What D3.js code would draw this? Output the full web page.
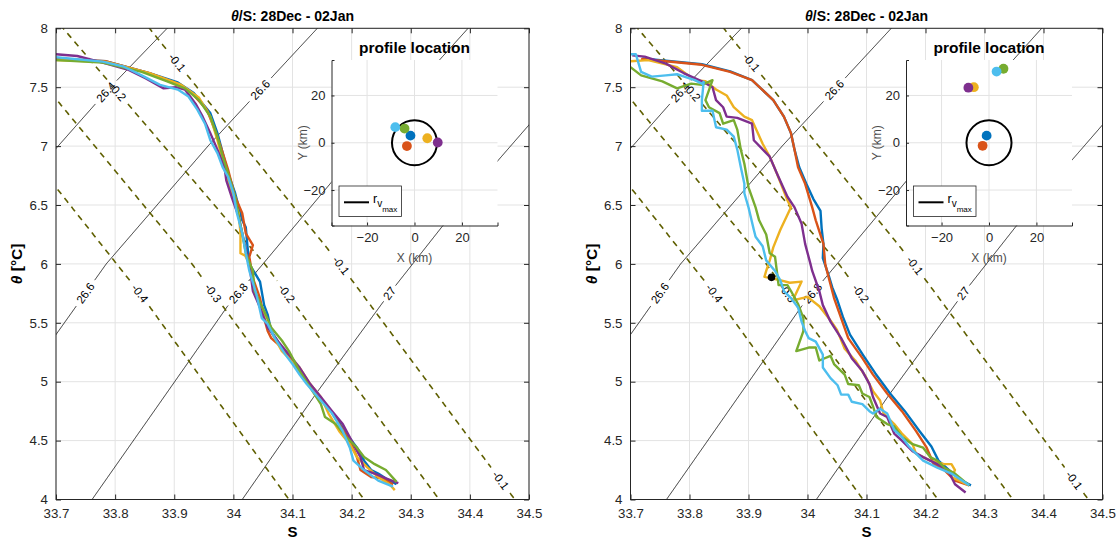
<!DOCTYPE html>
<html>
<head>
<meta charset="utf-8">
<script src="https://cdn.jsdelivr.net/npm/d3@7"></script>
<style>
body { margin: 0; background: #fff; }
text { font-family: "Liberation Sans", Arial, sans-serif; }
</style>
</head>
<body>
<svg id="fig" width="1119" height="542"></svg>
<script>
// ---- axis ticks ----
var sTicks = [33.7, 33.8, 33.9, 34.0, 34.1, 34.2, 34.3, 34.4, 34.5];
var thetaTicks = [4, 4.5, 5, 5.5, 6, 6.5, 7, 7.5, 8];
var insetTicks = [-20, 0, 20];
var titleText = "/S: 28Dec - 02Jan";

// MATLAB default line colours, in plotting order
var profileColors = ["#0072BD", "#D95319", "#EDB120", "#7E2F8E", "#77AC30", "#4DBEEE"];

// ---- isopycnals (S, theta) ----
var iso264 = [[33.64, 6.66], [33.7, 6.98], [33.79, 7.49], [33.888, 8.0], [33.91, 8.1]];
var iso266 = [[33.64, 4.98], [33.7, 5.40], [33.785, 6.0], [33.957, 7.0], [34.142, 8.0], [34.16, 8.1]];
var iso268 = [[33.745, 3.88], [33.761, 4.0], [33.87, 4.78], [33.99, 5.64], [34.217, 7.0], [34.397, 8.0], [34.42, 8.12]];
var iso270 = [[34.0, 3.9], [34.015, 4.0], [34.14, 4.9], [34.264, 5.75], [34.352, 6.31], [34.448, 6.88], [34.5, 7.18], [34.6, 7.77]];
var isoLevels = ["26.4", "26.6", "26.8", "27"];
var isoLabelAt = [
  [[33.787, 7.45]],
  [[34.045, 7.476], [33.75, 5.75]],
  [[34.008, 5.75]],
  [[34.264, 5.75]]
];

// ---- spiciness contours (S, theta) ----
var spice01 = [[33.85, 8.1], [33.858, 8.0], [34.18, 6.0], [34.476, 4.0], [34.49, 3.9]];
var spice02 = [[33.695, 8.1], [33.712, 8.0], [34.053, 6.0], [34.348, 4.0], [34.36, 3.9]];
var spice03 = [[33.68, 7.52], [33.7, 7.40], [33.93, 6.0], [34.221, 4.0], [34.235, 3.9]];
var spice04 = [[33.68, 6.78], [33.7, 6.65], [33.842, 5.75], [34.094, 4.0], [34.11, 3.9]];
var spiceLevels = ["-0.1", "-0.2", "-0.3", "-0.4"];
var spiceLabelAt = [
  [[33.9, 7.69], [34.185, 6.0], [34.452, 4.16]],
  [[33.804, 7.46], [34.09, 5.75]],
  [[33.966, 5.75]],
  [[33.842, 5.75]]
];

// ---- left panel profiles ----
var leftBlue = [[33.7,7.74],[33.785,7.72],[33.858,7.62],[33.906,7.54],[33.933,7.45],[33.961,7.28],[33.973,7.11],[33.982,6.94],[33.991,6.77],[34.003,6.60],[34.015,6.37],[34.021,6.31],[34.024,6.14],[34.027,6.0],[34.045,5.85],[34.052,5.65],[34.058,5.57],[34.064,5.43],[34.082,5.29],[34.1,5.18],[34.118,5.06],[34.136,4.92],[34.155,4.81],[34.173,4.70],[34.191,4.56],[34.209,4.44],[34.221,4.33],[34.233,4.25],[34.245,4.22],[34.264,4.16],[34.276,4.13]];
var leftRed = [[33.7,7.74],[33.785,7.72],[33.858,7.62],[33.906,7.53],[33.93,7.45],[33.955,7.31],[33.967,7.16],[33.979,6.99],[33.991,6.80],[34.003,6.57],[34.015,6.43],[34.021,6.26],[34.033,6.16],[34.027,6.06],[34.03,5.97],[34.033,5.88],[34.045,5.71],[34.052,5.54],[34.058,5.43],[34.064,5.37],[34.082,5.29],[34.1,5.18],[34.118,5.04],[34.136,4.92],[34.161,4.78],[34.179,4.64],[34.197,4.50],[34.209,4.36],[34.215,4.25],[34.233,4.19],[34.252,4.18],[34.27,4.13]];
var leftYellow = [[33.7,7.73],[33.785,7.715],[33.858,7.62],[33.912,7.52],[33.942,7.41],[33.961,7.25],[33.973,7.05],[33.985,6.82],[33.997,6.60],[34.009,6.43],[34.012,6.26],[34.012,6.09],[34.02,6.07],[34.027,6.0],[34.033,5.82],[34.045,5.65],[34.055,5.51],[34.07,5.37],[34.082,5.26],[34.094,5.20],[34.112,5.12],[34.13,4.98],[34.148,4.87],[34.161,4.73],[34.179,4.58],[34.197,4.47],[34.209,4.36],[34.227,4.27],[34.245,4.19],[34.264,4.13],[34.273,4.08]];
var leftPurple = [[33.7,7.78],[33.736,7.765],[33.785,7.70],[33.821,7.65],[33.852,7.575],[33.882,7.49],[33.903,7.50],[33.918,7.48],[33.936,7.36],[33.948,7.25],[33.961,7.11],[33.973,6.97],[33.985,6.82],[33.988,6.71],[33.997,6.57],[34.009,6.40],[34.015,6.26],[34.021,6.12],[34.027,6.0],[34.033,5.77],[34.045,5.63],[34.058,5.46],[34.076,5.34],[34.094,5.23],[34.112,5.12],[34.13,4.98],[34.148,4.87],[34.167,4.75],[34.185,4.64],[34.203,4.47],[34.215,4.36],[34.221,4.25],[34.239,4.22],[34.258,4.18],[34.279,4.14]];
var leftGreen = [[33.7,7.73],[33.779,7.71],[33.845,7.63],[33.888,7.55],[33.918,7.49],[33.942,7.39],[33.961,7.25],[33.973,7.08],[33.982,6.91],[33.991,6.77],[34.003,6.57],[34.009,6.40],[34.015,6.26],[34.021,6.09],[34.033,5.94],[34.036,5.77],[34.052,5.60],[34.064,5.46],[34.082,5.35],[34.094,5.26],[34.112,5.09],[34.13,4.95],[34.148,4.81],[34.155,4.70],[34.173,4.64],[34.191,4.53],[34.209,4.44],[34.221,4.36],[34.239,4.30],[34.258,4.25],[34.276,4.15]];
var leftSky = [[33.7,7.754],[33.779,7.717],[33.815,7.674],[33.845,7.60],[33.876,7.52],[33.906,7.48],[33.924,7.42],[33.939,7.31],[33.952,7.19],[33.961,7.05],[33.973,6.94],[33.982,6.82],[33.991,6.74],[34.0,6.60],[34.006,6.43],[34.015,6.26],[34.021,6.09],[34.027,5.94],[34.039,5.74],[34.048,5.54],[34.058,5.49],[34.07,5.37],[34.088,5.23],[34.1,5.15],[34.112,5.06],[34.124,4.98],[34.148,4.84],[34.167,4.73],[34.185,4.58],[34.197,4.44],[34.203,4.33],[34.221,4.25],[34.245,4.16],[34.27,4.11]];

// ---- right panel profiles ----
var rightBlue = [[33.72,7.745],[33.76,7.725],[33.821,7.695],[33.869,7.635],[33.906,7.56],[33.942,7.39],[33.96,7.25],[33.972,7.11],[33.978,6.97],[33.986,6.82],[33.998,6.68],[34.01,6.55],[34.022,6.45],[34.024,6.3],[34.027,6.17],[34.026,6.05],[34.036,5.9],[34.042,5.8],[34.05,5.7],[34.06,5.55],[34.072,5.4],[34.095,5.22],[34.115,5.07],[34.14,4.9],[34.165,4.75],[34.19,4.58],[34.21,4.45],[34.222,4.33],[34.24,4.25],[34.258,4.17],[34.277,4.12]];
var rightRed = [[33.718,7.74],[33.76,7.72],[33.821,7.69],[33.869,7.63],[33.906,7.56],[33.942,7.39],[33.96,7.25],[33.972,7.11],[33.978,6.97],[33.984,6.82],[33.996,6.68],[34.008,6.48],[34.014,6.37],[34.027,6.17],[34.03,6.0],[34.033,5.94],[34.045,5.71],[34.057,5.54],[34.069,5.37],[34.093,5.2],[34.111,5.06],[34.135,4.9],[34.16,4.75],[34.184,4.58],[34.202,4.44],[34.214,4.30],[34.232,4.25],[34.25,4.16],[34.274,4.12]];
var rightYellow = [[33.7,7.72],[33.73,7.73],[33.779,7.67],[33.809,7.56],[33.827,7.55],[33.845,7.48],[33.863,7.43],[33.875,7.33],[33.893,7.25],[33.906,7.22],[33.924,7.02],[33.936,6.91],[33.948,6.77],[33.966,6.54],[33.972,6.48],[33.954,6.29],[33.942,6.14],[33.936,6.03],[33.93,5.94],[33.927,5.89],[33.955,5.86],[33.97,5.84],[33.99,5.85],[33.975,5.69],[34.0,5.72],[34.02,5.64],[34.039,5.52],[34.05,5.44],[34.063,5.28],[34.081,5.18],[34.099,5.04],[34.111,4.92],[34.123,4.84],[34.129,4.73],[34.147,4.64],[34.16,4.56],[34.178,4.47],[34.184,4.39],[34.208,4.33],[34.232,4.30],[34.244,4.30],[34.25,4.25],[34.244,4.19],[34.262,4.15],[34.274,4.12]];
var rightPurple = [[33.703,7.77],[33.724,7.76],[33.76,7.70],[33.79,7.62],[33.821,7.55],[33.839,7.50],[33.845,7.39],[33.857,7.33],[33.863,7.25],[33.881,7.24],[33.906,7.19],[33.909,7.05],[33.936,6.91],[33.948,6.77],[33.966,6.57],[33.978,6.48],[33.99,6.34],[33.996,6.17],[34.005,6.0],[34.008,5.94],[34.02,5.77],[34.026,5.65],[34.039,5.51],[34.057,5.37],[34.075,5.20],[34.093,5.09],[34.105,4.98],[34.111,4.87],[34.123,4.73],[34.135,4.70],[34.147,4.56],[34.16,4.50],[34.178,4.41],[34.196,4.36],[34.22,4.30],[34.238,4.25],[34.25,4.13],[34.268,4.06]];
var rightGreen = [[33.7,7.67],[33.718,7.60],[33.754,7.55],[33.779,7.49],[33.803,7.53],[33.821,7.52],[33.839,7.56],[33.827,7.39],[33.833,7.33],[33.851,7.28],[33.857,7.19],[33.875,7.22],[33.881,7.14],[33.887,6.97],[33.893,6.85],[33.9,6.65],[33.912,6.48],[33.918,6.37],[33.93,6.25],[33.936,6.09],[33.945,6.06],[33.948,5.94],[33.951,5.82],[33.966,5.82],[33.972,5.77],[33.984,5.66],[33.993,5.54],[33.993,5.43],[33.981,5.26],[34.002,5.29],[34.014,5.29],[34.02,5.18],[34.039,5.22],[34.045,5.15],[34.063,5.06],[34.069,4.98],[34.087,4.97],[34.093,4.90],[34.105,4.87],[34.111,4.79],[34.117,4.70],[34.135,4.64],[34.147,4.62],[34.16,4.53],[34.178,4.47],[34.196,4.44],[34.208,4.36],[34.22,4.33],[34.232,4.27],[34.25,4.22],[34.274,4.12]];
var rightSky = [[33.7,7.78],[33.709,7.78],[33.718,7.63],[33.736,7.59],[33.76,7.60],[33.779,7.61],[33.791,7.59],[33.809,7.56],[33.821,7.53],[33.824,7.545],[33.821,7.39],[33.821,7.30],[33.839,7.30],[33.845,7.16],[33.863,7.14],[33.875,7.08],[33.881,6.97],[33.887,6.82],[33.893,6.68],[33.893,6.60],[33.9,6.48],[33.909,6.29],[33.912,6.23],[33.924,6.15],[33.93,6.03],[33.945,5.94],[33.954,5.86],[33.96,5.77],[33.972,5.71],[33.984,5.63],[33.99,5.51],[33.996,5.43],[34.002,5.37],[34.014,5.34],[34.026,5.23],[34.026,5.12],[34.039,5.03],[34.051,4.97],[34.057,4.89],[34.069,4.89],[34.075,4.83],[34.093,4.81],[34.105,4.75],[34.111,4.73],[34.123,4.77],[34.135,4.73],[34.147,4.59],[34.16,4.53],[34.172,4.45],[34.184,4.39],[34.196,4.33],[34.208,4.30],[34.22,4.27],[34.244,4.22],[34.274,4.12]];
var rightMarker = [[33.939, 5.886]];

// ---- profile locations (km), same colour order ----
var leftLocX = [-1.7, -3.2, 5.4, 9.8, -4.2, -8.1];
var leftLocY = [3.0, -1.4, 1.9, 0.1, 6.0, 6.6];
var rightLocX = [-1.0, -2.7, -6.4, -8.7, 6.1, 3.2];
var rightLocY = [3.0, -1.3, 23.5, 23.3, 31.3, 30.1];
var rvmax = 9.5;


var svg = d3.select("#fig");
var axisColor = "#262626";
var gridColor = "#e3e3e3";
var panelTop = 28.3, panelBottom = 499.5;

function densify(pts, x, y) {
	// walk the polyline in pixel space at ~1px steps
	var out = [];
	for (var i = 0; i < pts.length - 1; i++) {
		var x0 = x(pts[i][0]), y0 = y(pts[i][1]), x1 = x(pts[i+1][0]), y1 = y(pts[i+1][1]);
		var n = Math.max(1, Math.ceil(Math.hypot(x1 - x0, y1 - y0)));
		for (var k = 0; k < n; k++) out.push([x0 + (x1 - x0) * k / n, y0 + (y1 - y0) * k / n]);
	}
	var last = pts[pts.length - 1];
	out.push([x(last[0]), y(last[1])]);
	return out;
}

function drawContour(g, pts, labels, text, x, y, style) {
	var dense = densify(pts, x, y);
	var hide = new Array(dense.length).fill(false);
	var placed = [];
	labels.forEach(function(p) {
		var px = x(p[0]), py = y(p[1]);
		var best = 0, bd = 1e9;
		dense.forEach(function(q, i) {
			var d = Math.hypot(q[0] - px, q[1] - py);
			if (d < bd) { bd = d; best = i; }
		});
		var a = dense[Math.max(0, best - 4)], b = dense[Math.min(dense.length - 1, best + 4)];
		var dx = b[0] - a[0], dy = b[1] - a[1];
		if (dx < 0) { dx = -dx; dy = -dy; }
		var ang = Math.atan2(dy, dx) * 180 / Math.PI;
		var c = dense[best];
		var r = text.length * 3.2 + 3;
		dense.forEach(function(q, i) {
			if (Math.hypot(q[0] - c[0], q[1] - c[1]) < r) hide[i] = true;
		});
		placed.push({x: c[0], y: c[1], a: ang});
	});
	var segs = [], cur = [];
	dense.forEach(function(q, i) {
		if (hide[i]) { if (cur.length > 1) segs.push(cur); cur = []; }
		else cur.push(q);
	});
	if (cur.length > 1) segs.push(cur);

	g.selectAll(null).data(segs).enter().append("path")
		.attr("d", d3.line())
		.attr("fill", "none")
		.attr("stroke", style.color)
		.attr("stroke-width", style.width)
		.attr("stroke-dasharray", style.dash);

	g.selectAll(null).data(placed).enter().append("text")
		.attr("transform", function(d) { return "translate(" + d.x + "," + d.y + ") rotate(" + d.a + ")"; })
		.attr("text-anchor", "middle")
		.attr("dy", "0.35em")
		.attr("font-size", 11.5)
		.attr("fill", "#000")
		.text(text);
}

function drawPanel(x0, x1, profiles, marker, locX, locY, clipId) {
	var x = d3.scaleLinear().domain([33.7, 34.5]).range([x0, x1]);
	var y = d3.scaleLinear().domain([4, 8]).range([panelBottom, panelTop]);
	var g = svg.append("g");

	// grid
	g.append("g").selectAll("line").data(sTicks).enter().append("line")
		.attr("x1", d => x(d)).attr("x2", d => x(d))
		.attr("y1", panelTop).attr("y2", panelBottom)
		.attr("stroke", gridColor).attr("stroke-width", 1);
	g.append("g").selectAll("line").data(thetaTicks).enter().append("line")
		.attr("y1", d => y(d)).attr("y2", d => y(d))
		.attr("x1", x0).attr("x2", x1)
		.attr("stroke", gridColor).attr("stroke-width", 1);

	svg.append("clipPath").attr("id", clipId).append("rect")
		.attr("x", x0).attr("y", panelTop).attr("width", x1 - x0).attr("height", panelBottom - panelTop);
	var plot = g.append("g").attr("clip-path", "url(#" + clipId + ")");

	// background contours
	var isos = [iso264, iso266, iso268, iso270];
	isos.forEach(function(pts, i) {
		drawContour(plot, pts, isoLabelAt[i], isoLevels[i], x, y, {color: "#000", width: 0.8, dash: null});
	});
	var spices = [spice01, spice02, spice03, spice04];
	spices.forEach(function(pts, i) {
		drawContour(plot, pts, spiceLabelAt[i], spiceLevels[i], x, y, {color: "#5f5f00", width: 1.6, dash: "6,5"});
	});

	// profiles
	var line = d3.line().x(d => x(d[0])).y(d => y(d[1]));
	plot.selectAll(".prof").data(profiles).enter().append("path")
		.attr("class", "prof")
		.attr("d", line)
		.attr("fill", "none")
		.attr("stroke", (d, i) => profileColors[i])
		.attr("stroke-width", 2.4)
		.attr("stroke-linejoin", "round");

	plot.selectAll(".mark").data(marker).enter().append("circle")
		.attr("cx", d => x(d[0])).attr("cy", d => y(d[1])).attr("r", 3.8).attr("fill", "#000");

	// axes box
	g.append("rect").attr("x", x0).attr("y", panelTop).attr("width", x1 - x0).attr("height", panelBottom - panelTop)
		.attr("fill", "none").attr("stroke", axisColor).attr("stroke-width", 1);
	var axB = g.append("g").attr("transform", "translate(0," + panelBottom + ")")
		.call(d3.axisBottom(x).tickValues(sTicks).tickSize(-5).tickPadding(9).tickFormat(d3.format("~g")));
	var axT = g.append("g").attr("transform", "translate(0," + panelTop + ")")
		.call(d3.axisTop(x).tickValues(sTicks).tickSize(-5).tickFormat(""));
	var axL = g.append("g").attr("transform", "translate(" + x0 + ",0)")
		.call(d3.axisLeft(y).tickValues(thetaTicks).tickSize(-5).tickPadding(8).tickFormat(d3.format("~g")));
	var axR = g.append("g").attr("transform", "translate(" + x1 + ",0)")
		.call(d3.axisRight(y).tickValues(thetaTicks).tickSize(-5).tickFormat(""));
	[axB, axT, axL, axR].forEach(function(a) {
		a.select(".domain").remove();
		a.selectAll("line").attr("stroke", axisColor);
		a.selectAll("text").attr("fill", axisColor).attr("font-size", 13.3).attr("font-family", "Liberation Sans, Arial, sans-serif");
	});

	// titles
	var cx = (x0 + x1) / 2;
	var t = g.append("text").attr("x", cx).attr("y", 21).attr("text-anchor", "middle")
		.attr("font-size", 14).attr("font-weight", "bold").attr("fill", "#000");
	t.append("tspan").attr("font-style", "italic").text("θ");
	t.append("tspan").text(titleText);
	g.append("text").attr("x", cx).attr("y", 537).attr("text-anchor", "middle")
		.attr("font-size", 15).attr("font-weight", "bold").attr("fill", "#000").text("S");
	var yl = g.append("text").attr("transform", "translate(" + (x0 - 34) + "," + ((panelTop + panelBottom) / 2) + ") rotate(-90)")
		.attr("text-anchor", "middle").attr("font-size", 15.5).attr("font-weight", "bold").attr("fill", "#000");
	yl.append("tspan").attr("font-style", "italic").text("θ");
	yl.append("tspan").text(" [°C]");

	// ---- inset: profile location ----
	var ix0 = x0 + 275.5, ix1 = ix0 + 166, iy0 = 60, iy1 = 225.5;
	var ix = d3.scaleLinear().domain([-35, 35]).range([ix0, ix1]);
	var iy = d3.scaleLinear().domain([-35, 35]).range([iy1, iy0]);
	var ig = g.append("g");
	ig.append("rect").attr("x", ix0).attr("y", iy0).attr("width", ix1 - ix0).attr("height", iy1 - iy0).attr("fill", "#fff");
	ig.selectAll(".gx").data(insetTicks).enter().append("line")
		.attr("x1", d => ix(d)).attr("x2", d => ix(d)).attr("y1", iy0).attr("y2", iy1)
		.attr("stroke", gridColor);
	ig.selectAll(".gy").data(insetTicks).enter().append("line")
		.attr("y1", d => iy(d)).attr("y2", d => iy(d)).attr("x1", ix0).attr("x2", ix1)
		.attr("stroke", gridColor);
	var iaxB = ig.append("g").attr("transform", "translate(0," + iy1 + ")")
		.call(d3.axisBottom(ix).tickValues(insetTicks).tickSize(-3).tickPadding(7));
	var iaxL = ig.append("g").attr("transform", "translate(" + ix0 + ",0)")
		.call(d3.axisLeft(iy).tickValues(insetTicks).tickSize(-3).tickPadding(6));
	[iaxB, iaxL].forEach(function(a) {
		a.select(".domain").attr("stroke", axisColor);
		a.selectAll("line").attr("stroke", axisColor);
		a.selectAll("text").attr("fill", axisColor).attr("font-size", 13).attr("font-family", "Liberation Sans, Arial, sans-serif");
	});
	ig.append("text").attr("x", (ix0 + ix1) / 2).attr("y", iy1 + 36).attr("text-anchor", "middle")
		.attr("font-size", 12).attr("fill", "#4d4d4d").text("X (km)");
	ig.append("text").attr("transform", "translate(" + (ix0 - 25) + "," + ((iy0 + iy1) / 2) + ") rotate(-90)")
		.attr("text-anchor", "middle").attr("font-size", 12).attr("fill", "#4d4d4d").text("Y (km)");
	ig.append("text").attr("x", (ix0 + ix1) / 2).attr("y", 53).attr("text-anchor", "middle")
		.attr("font-size", 15.5).attr("font-weight", "bold").attr("fill", "#000").text("profile location");

	ig.append("ellipse").attr("cx", ix(0)).attr("cy", iy(0))
		.attr("rx", ix(rvmax) - ix(0)).attr("ry", iy(0) - iy(rvmax))
		.attr("fill", "none").attr("stroke", "#000").attr("stroke-width", 2);
	ig.selectAll(".loc").data(locX).enter().append("circle")
		.attr("cx", d => ix(d)).attr("cy", (d, i) => iy(locY[i])).attr("r", 4.9)
		.attr("fill", (d, i) => profileColors[i]);

	// legend
	var lg = ig.append("g").attr("transform", "translate(" + (ix0 + 7.5) + "," + (iy0 + 126) + ")");
	lg.append("rect").attr("width", 62.5).attr("height", 30.5).attr("fill", "#fff").attr("stroke", "#262626").attr("stroke-width", 0.8);
	lg.append("line").attr("x1", 5).attr("x2", 30).attr("y1", 16.3).attr("y2", 16.3).attr("stroke", "#000").attr("stroke-width", 2);
	var lt = lg.append("text").attr("x", 34).attr("y", 17).attr("font-size", 12.5).attr("fill", "#000");
	lt.append("tspan").text("r");
	lt.append("tspan").attr("font-size", 10).attr("dy", 4).text("v");
	lt.append("tspan").attr("font-size", 8).attr("dy", 5).text("max");
}

drawPanel(56, 529, [leftBlue, leftRed, leftYellow, leftPurple, leftGreen, leftSky], [], leftLocX, leftLocY, "clipL");
drawPanel(630.5, 1102.5, [rightBlue, rightRed, rightYellow, rightPurple, rightGreen, rightSky], rightMarker, rightLocX, rightLocY, "clipR");
</script>
</body>
</html>
